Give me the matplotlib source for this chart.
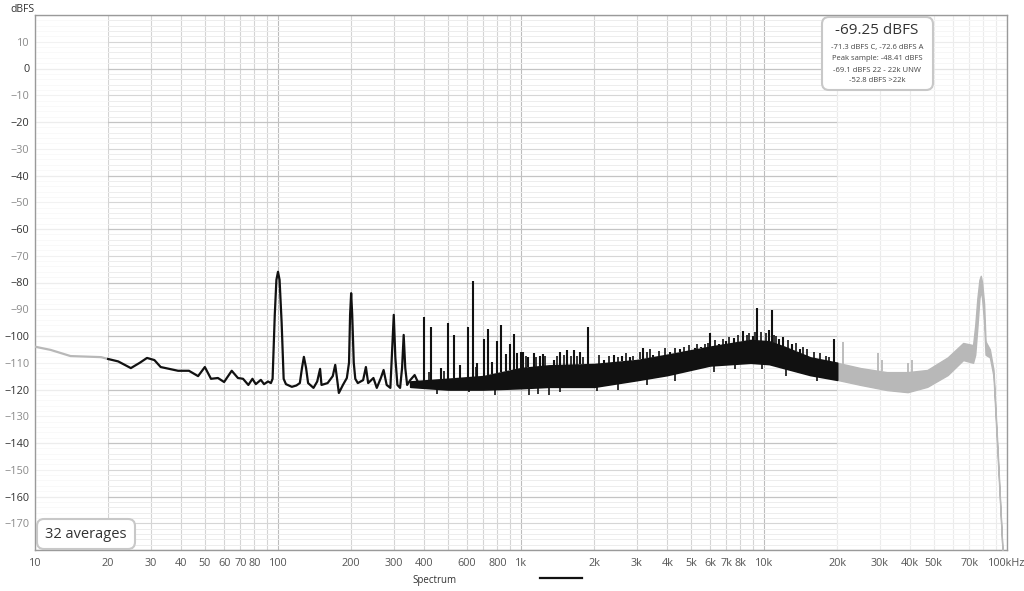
import matplotlib
matplotlib.use("Agg")
import matplotlib.pyplot as plt
import numpy as np
from matplotlib.lines import Line2D
from matplotlib.patches import FancyBboxPatch
from matplotlib.transforms import IdentityTransform

plt.rcParams["font.family"] = ["Open Sans", "DejaVu Sans"]

# smooth low-frequency part of the trace (Hz, dBFS)
low_grey_freq = [10, 11.6, 14, 18.7, 20]
low_grey_db = [-104, -105.2, -107.5, -107.9, -108.6]

low_freq = [20, 22, 24.8, 27, 28.9, 31, 32.9, 38.8, 43, 46.9, 50, 53, 56.6, 60, 64.5,
            68.4, 71.8, 75.5, 78.5, 81, 85, 87.6, 91, 93.5, 95, 97, 98.5, 100, 101.5,
            103.5, 105.5, 107.8, 114, 119, 123, 125.5, 127.8, 130.5, 133, 140, 145, 149,
            151, 160, 168, 172, 175, 178, 185, 192, 196, 198, 200, 202, 205, 208, 213,
            224, 230, 235, 247, 255, 265, 272, 280, 290, 295, 299.5, 304, 310, 318, 324,
            329, 334, 340, 350, 365, 380]
low_db = [-108.6, -109.5, -112, -110, -108.2, -109, -111.6, -113, -113, -115, -111.6,
          -116, -115.7, -117.2, -113, -115.7, -116, -118.3, -116, -118, -116.4, -118,
          -117, -117.6, -116, -92, -79, -76, -79, -95, -116, -118, -119, -118.5, -117.6,
          -112, -107.8, -112, -117.6, -119.4, -117, -112.3, -118.3, -117.6, -115, -110.8,
          -116, -121.3, -118.3, -115.7, -110, -92, -84, -92, -110, -116, -117.6, -116.5,
          -111.6, -117.6, -115.7, -119.4, -115.7, -112.7, -118.3, -119.4, -105, -92.1,
          -108, -118.3, -119.4, -112, -99.6, -112, -118.3, -116.5, -114.6, -118]

# noisy band 350 Hz - 20 kHz (upper / lower envelope)
band_freq = [350, 500, 700, 1000, 1300, 2000, 3000, 4000, 6000, 8800, 10500, 12100, 15500, 20000]
band_top = [-117, -116, -115, -112, -111, -110.5, -109, -107, -104, -101.5, -102, -104, -108, -110]
band_bottom = [-119, -120, -120, -119.5, -119, -119, -116.5, -114.6, -111, -110, -110.5, -112, -114.6, -116.4]

# harmonic / tonal spikes above the band
spike_freq = [398, 428, 470, 500, 530, 560, 605, 634, 660, 702, 730, 758, 800, 830, 867,
              900, 935, 960, 1000, 1019, 1068, 1126, 1195, 1230, 1364, 1452, 1550, 1656,
              1752, 1890, 2200, 2410, 2600, 2800, 3170, 3500, 4100, 4500, 5200, 5500,
              6000, 6500, 7000, 7500, 8200, 9000, 9400, 10500, 10800, 11500, 12000,
              13000, 14000, 19400]
spike_db = [-92.9, -96.6, -112, -95.1, -99.6, -110.8, -96.6, -79.4, -110, -101.1, -97.4,
            -109.7, -101.9, -95.9, -106.7, -103, -99.3, -106.4, -106, -106, -108, -106.4,
            -107.5, -106.7, -109, -106, -105.2, -105.2, -106, -96.6, -109, -107, -107.5,
            -108, -104.5, -107, -106, -105, -104.5, -104, -98.9, -103, -102, -100.7, -98,
            -100, -89.5, -97.8, -90.3, -101, -100.4, -103, -105, -101]

# small noise hairs above and below the band
hair_freq = [420, 480, 560, 650, 760, 900, 1050, 1150, 1250, 1400, 1500, 1600, 1700,
             1800, 2100, 2300, 2500, 2700, 2900, 3100, 3300, 3400, 3700, 3900, 4300,
             4700, 4900, 5300, 5700, 5900, 6300, 6800, 7200, 7800, 8500, 8700, 9200,
             9700, 10200, 11000, 11200, 12500, 13500, 14500, 15000, 16000, 17000, 18000,
             18500]
hair_db = [-113.5, -113, -112.5, -111.5, -111, -109.5, -107.5, -108, -107.5, -107.5, -107,
           -107.5, -107.5, -108, -107, -107.5, -108, -106.5, -107.5, -106, -106, -105,
           -105.5, -104.5, -104.5, -104, -103.5, -103, -103, -102.5, -101.5, -101, -100.5,
           -99.5, -99.5, -99, -98.5, -98.5, -99, -99.5, -100, -101.5, -102.5, -104, -105,
           -106, -106.5, -107.5, -108]
down_freq = [450, 610, 780, 1080, 1180, 1310, 1450, 2050, 2500, 3300, 4300, 6200, 7600,
             9800, 12300, 16500]
down_db = [-121.5, -121, -122, -122, -121.5, -122, -121, -120.5, -120, -118.5, -117,
           -113.5, -112.5, -112.5, -115, -117]

# out-of-band part 20 kHz - 100 kHz (grey)
hi_freq = [20000, 25000, 32000, 39000, 47000, 57000, 66000, 72500, 74000, 75500, 77000,
           78000, 79000, 80500, 81600, 85000, 88000, 91500, 95800]
hi_top = [-110, -112, -113.5, -113.5, -112.7, -108, -102.6, -103.4, -96, -86, -79, -77.5,
          -80, -88, -102, -105, -112.7, -142.6, -180]
hi_bottom = [-116.4, -118.3, -120.2, -121, -119, -114.6, -109, -110, -107, -97, -86, -83,
             -86, -95, -107, -108, -115, -145, -180]
hi_spike_freq = [21200, 29400, 30500, 39000, 40500]
hi_spike_db = [-102.2, -106.4, -109, -110, -109]

xtick_vals = [10, 20, 30, 40, 50, 60, 70, 80, 100, 200, 300, 400, 600, 800, 1000, 2000,
              3000, 4000, 5000, 6000, 7000, 8000, 10000, 20000, 30000, 40000, 50000,
              70000, 100000]
xtick_labels = ["10", "20", "30", "40", "50", "60", "70", "80", "100", "200", "300", "400",
                "600", "800", "1k", "2k", "3k", "4k", "5k", "6k", "7k", "8k", "10k", "20k",
                "30k", "40k", "50k", "70k", "100kHz"]

info_title = "-69.25 dBFS"
info_lines = ["-71.3 dBFS C, -72.6 dBFS A", "Peak sample: -48.41 dBFS",
              "-69.1 dBFS 22 - 22k UNW", "-52.8 dBFS >22k"]

BLACK = "#111111"
GREY = "#b8b8b8"

fig = plt.figure(figsize=(10.24, 5.91), dpi=100)
ax = fig.add_axes([35 / 1024, 41 / 591, 972 / 1024, 535 / 591])
ax.set_xscale("log")
ax.set_xlim(10, 100000)
ax.set_ylim(-180, 20)

# grid
minor_x = [m * 10 ** d for d in range(1, 5) for m in range(1, 10)] + [100000]
for f in minor_x:
    col = "#bdbdbd" if f in (100, 1000, 10000) else "#d4d4d4"
    ax.axvline(f, color=col, lw=0.8, zorder=0)
for v in np.arange(-180, 21, 2):
    if v % 20 == 0:
        col, lw = "#c4c4c4", 0.9
    elif v % 10 == 0:
        col, lw = "#d6d6d6", 0.8
    else:
        col, lw = "#ededed", 0.7
    ax.axhline(v, color=col, lw=lw, zorder=0)
ax.axvspan(10, 20, color="white", alpha=0.7, lw=0, zorder=1)
ax.axvspan(20000, 100000, color="white", alpha=0.55, lw=0, zorder=1)

# trace
ax.plot(low_grey_freq, low_grey_db, color=GREY, lw=1.6, zorder=3)
ax.plot(low_freq, low_db, color=BLACK, lw=1.6, zorder=4, solid_joinstyle="round")
ax.fill_between(band_freq, band_bottom, band_top, color=BLACK, lw=1.2, edgecolor=BLACK, zorder=4)
log_band = np.log10(band_freq)
base = np.interp(np.log10(spike_freq), log_band, band_top)
ax.vlines(spike_freq, base, spike_db, color=BLACK, lw=1.5, zorder=4)
hbase = np.interp(np.log10(hair_freq), log_band, band_top)
ax.vlines(hair_freq, hbase, hair_db, color=BLACK, lw=1.2, zorder=4)
dbase = np.interp(np.log10(down_freq), log_band, band_bottom)
ax.vlines(down_freq, dbase, down_db, color=BLACK, lw=1.2, zorder=4)

ax.fill_between(hi_freq, hi_bottom, hi_top, color=GREY, lw=1.0, edgecolor=GREY, zorder=3)
gbase = np.interp(np.log10(hi_spike_freq), np.log10(hi_freq), hi_top)
ax.vlines(hi_spike_freq, gbase, hi_spike_db, color=GREY, lw=1.3, zorder=3)

# axes styling
for s in ax.spines.values():
    s.set_color("#9a9a9a")
    s.set_linewidth(1.0)
ax.set_xticks(xtick_vals)
ax.set_xticklabels(xtick_labels)
ax.xaxis.set_minor_locator(matplotlib.ticker.NullLocator())
ax.set_yticks(np.arange(-170, 11, 10))
ax.tick_params(length=0, labelsize=7.8, colors="#555555", pad=6)
ax.tick_params(axis="y", pad=4)
for lab, v in zip(ax.get_yticklabels(), np.arange(-170, 11, 10)):
    lab.set_color("#333333" if v % 20 == 0 else "#8a8a8a")
fig.text(10, 591 - 9, "dBFS", transform=IdentityTransform(), fontsize=7.5,
         color="#333333", va="center", ha="left")

# info box
box = FancyBboxPatch((822, 501), 111, 73, boxstyle="round,pad=0,rounding_size=7",
                     transform=IdentityTransform(), facecolor="white",
                     edgecolor="#c8c8c8", lw=1.5, zorder=10)
fig.add_artist(box)
fig.text(877, 561, info_title, transform=IdentityTransform(), fontsize=11,
         color="#333333", ha="center", va="center", zorder=11)
for i, line in enumerate(info_lines):
    fig.text(877, 543 - i * 11, line, transform=IdentityTransform(), fontsize=5.5,
             color="#444444", ha="center", va="center", zorder=11)

# averages box
avg = FancyBboxPatch((37, 42), 98, 30, boxstyle="round,pad=0,rounding_size=7",
                     transform=IdentityTransform(), facecolor="white",
                     edgecolor="#c8c8c8", lw=1.5, zorder=10)
fig.add_artist(avg)
fig.text(86, 57, "32 averages", transform=IdentityTransform(), fontsize=10.5,
         color="#333333", ha="center", va="center", zorder=11)

# legend
fig.text(412, 591 - 581, "Spectrum", transform=IdentityTransform(), fontsize=7,
         color="#333333", ha="left", va="center")
fig.add_artist(Line2D([540, 582], [591 - 578, 591 - 578], transform=IdentityTransform(),
                      color=BLACK, lw=1.6))

fig.savefig("out.png", dpi=100)
